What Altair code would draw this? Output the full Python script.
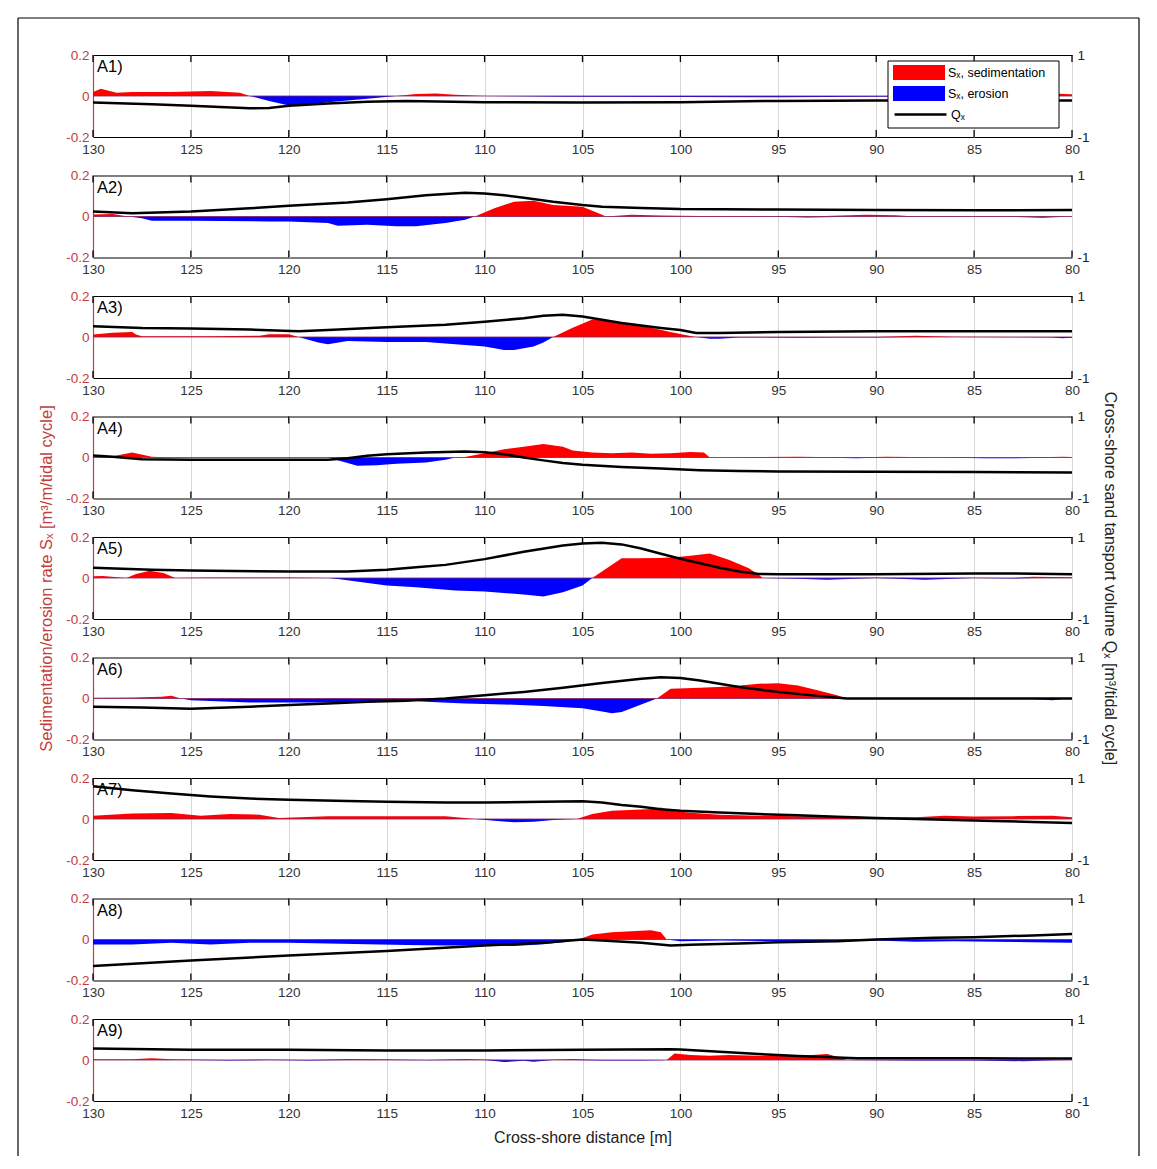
import altair as alt
import pandas as pd

FONT = "Liberation Sans"
TICKS = [130, 125, 120, 115, 110, 105, 100, 95, 90, 85, 80]
PANEL_LABELS = ["A1)", "A2)", "A3)", "A4)", "A5)", "A6)", "A7)", "A8)", "A9)"]
X_TITLE = "Cross-shore distance [m]"
L_TITLE = "Sedimentation/erosion rate S\u2093 [m\u00b3/m/tidal cycle]"
R_TITLE = "Cross-shore sand tansport volume Q\u2093 [m\u00b3/tidal cycle]"
LEG_SED = "S\u2093, sedimentation"
LEG_ERO = "S\u2093, erosion"
LEG_Q = "Q\u2093"

# ---- A1 ----
S1_X = [130, 129.6, 128.8, 128, 126, 124, 122.5, 122, 121, 120, 119.5, 118, 116, 114.5, 113.5, 112.5, 111.5, 110,
        106, 100, 95, 90, 85, 81.5, 80.8, 80.4, 80]
S1_V = [0.02, 0.035, 0.016, 0.02, 0.02, 0.024, 0.016, 0, -0.024, -0.046, -0.047, -0.03, -0.013, 0, 0.01, 0.012,
        0.006, 0, -0.004, -0.005, -0.006, -0.004, -0.003, 0, 0.012, 0.01, 0.008]
Q1_X = [130, 127, 125, 122, 121, 120, 118, 116, 114, 110, 105, 100, 95, 90, 85, 80]
Q1_V = [-0.16, -0.2, -0.24, -0.3, -0.29, -0.24, -0.18, -0.14, -0.12, -0.15, -0.16, -0.15, -0.12, -0.11, -0.11, -0.11]

# ---- A2 ----
S2_X = [130, 129, 128.2, 127.5, 127, 125, 121, 120, 118, 117.5, 116, 114.5, 113.5, 112, 111, 110.5, 109.5, 108.5,
        107.5, 106.5, 105, 104, 103.8, 102.5, 101, 99, 96, 93.5, 90.5, 89, 88, 84, 81.5, 80]
S2_V = [0.01, 0.012, 0, -0.008, -0.021, -0.021, -0.024, -0.024, -0.032, -0.045, -0.04, -0.048, -0.047, -0.032,
        -0.016, 0, 0.04, 0.072, 0.077, 0.056, 0.048, 0.008, 0, 0.008, 0.005, 0.002, 0.002, -0.005, 0.008, 0.006,
        -0.002, 0.003, -0.006, 0]
Q2_X = [130, 128, 125, 122, 120, 117, 115, 113, 111, 110, 109, 108, 106.5, 105, 104, 102, 100, 95, 90, 85, 80]
Q2_V = [0.12, 0.08, 0.12, 0.2, 0.26, 0.34, 0.42, 0.52, 0.58, 0.56, 0.52, 0.46, 0.36, 0.28, 0.24, 0.21, 0.18,
        0.17, 0.16, 0.15, 0.16]

# ---- A3 ----
S3_X = [130, 129, 128, 127.8, 127.5, 124, 121.5, 121, 120, 119.5, 118.5, 118, 117, 115, 113, 111.5, 110, 109,
        108.5, 107.5, 107, 106.5, 105.5, 104.5, 103.5, 102.5, 101.5, 100.5, 99.5, 99.2, 98.5, 98, 97, 94, 92, 90,
        88, 86, 81, 80.5, 80]
S3_V = [0.012, 0.021, 0.024, 0.012, 0.004, 0.004, 0.006, 0.013, 0.013, 0, -0.027, -0.035, -0.019, -0.024, -0.024,
        -0.035, -0.046, -0.064, -0.064, -0.046, -0.027, 0, 0.045, 0.085, 0.077, 0.064, 0.045, 0.024, 0.005, 0,
        -0.008, -0.008, -0.002, -0.004, -0.003, -0.002, 0.006, 0.001, -0.002, -0.006, -0.004]
Q3_X = [130, 127.5, 125, 122, 119.5, 118, 115, 112, 110, 108, 107, 106, 105, 104, 103, 102, 101, 100, 99.2, 98,
        95, 90, 85, 80]
Q3_V = [0.26, 0.22, 0.21, 0.18, 0.14, 0.17, 0.24, 0.3, 0.37, 0.46, 0.52, 0.54, 0.5, 0.42, 0.34, 0.28, 0.22, 0.17,
        0.1, 0.1, 0.12, 0.14, 0.14, 0.14]

# ---- A4 ----
S4_X = [130, 129, 128, 127, 126, 118, 117, 116.5, 115.5, 114.5, 113, 112, 111.5, 111, 110, 109, 108, 107, 106,
        105.5, 104.5, 103.5, 102.5, 101.5, 100.5, 99.5, 98.8, 98.5, 96, 94, 93, 91, 89.5, 87, 84.5, 82, 80.5, 80]
S4_V = [0.004, 0.006, 0.024, 0.004, 0, 0, -0.027, -0.04, -0.038, -0.03, -0.024, -0.011, 0, 0.003, 0.021, 0.04,
        0.053, 0.066, 0.053, 0.034, 0.024, 0.021, 0.024, 0.018, 0.021, 0.027, 0.025, 0, 0.002, 0.004, 0.003,
        -0.004, 0.004, 0.001, -0.004, -0.003, 0.004, 0.002]
Q4_X = [130, 129, 127.5, 125, 118, 117, 116, 115, 113, 111, 110, 109, 108, 107, 106, 105, 103, 101, 99, 97, 95,
        90, 85, 80]
Q4_V = [0.05, 0.02, -0.04, -0.056, -0.056, -0.016, 0.04, 0.08, 0.12, 0.144, 0.13, 0.08, 0.0, -0.07, -0.136,
        -0.176, -0.23, -0.27, -0.31, -0.33, -0.34, -0.345, -0.355, -0.365]

# ---- A5 ----
S5_X = [130, 129.5, 128.3, 127.8, 127.1, 126.4, 125.8, 124, 120, 118, 117.5, 115, 113.5, 111.5, 110, 108, 107,
        106, 105, 104.5, 103, 102.3, 101, 100, 99.5, 98.5, 97.5, 96.5, 96, 95.8, 94, 92.5, 90, 87.5, 85, 83, 82, 80]
S5_V = [0.008, 0.01, 0, 0.02, 0.035, 0.025, 0, 0.003, 0.002, 0, -0.005, -0.037, -0.045, -0.061, -0.066, -0.08,
        -0.09, -0.069, -0.037, 0, 0.096, 0.096, 0.098, 0.104, 0.108, 0.12, 0.088, 0.048, 0.016, 0, -0.004, -0.008,
        0.002, -0.008, 0.001, -0.003, 0.006, 0.004]
Q5_X = [130, 127, 125, 120, 117, 115, 113.5, 112, 110, 108, 106, 105, 104, 103, 102, 101, 100, 99, 98, 97, 96,
        95, 90, 85, 83, 80]
Q5_V = [0.25, 0.2, 0.18, 0.16, 0.16, 0.2, 0.26, 0.32, 0.46, 0.64, 0.79, 0.84, 0.86, 0.82, 0.72, 0.59, 0.47, 0.36,
        0.25, 0.16, 0.1, 0.09, 0.09, 0.11, 0.11, 0.09]

# ---- A6 ----
S6_X = [130, 128, 126.5, 126, 125.5, 125, 122, 120, 118, 116, 114, 113, 111, 109, 107, 105, 104, 103.5, 103, 102,
        101.2, 100.5, 99, 97.5, 96, 95, 94, 93, 92, 91.5, 88, 85, 82, 81, 80.5, 80]
S6_V = [0.004, 0.005, 0.008, 0.013, 0, -0.008, -0.019, -0.019, -0.019, -0.016, -0.008, -0.016, -0.024, -0.029,
        -0.037, -0.048, -0.064, -0.072, -0.066, -0.029, 0, 0.048, 0.053, 0.059, 0.072, 0.075, 0.064, 0.04, 0.016,
        0, 0.001, -0.001, -0.002, -0.008, -0.003, 0]
Q6_X = [130, 127.5, 125, 122, 120, 118, 116, 114, 112, 110, 108, 106, 104, 102, 101, 100, 99, 98, 97, 96, 95, 93,
        91.5, 85, 80]
Q6_V = [-0.2, -0.22, -0.25, -0.2, -0.16, -0.12, -0.08, -0.056, 0, 0.08, 0.16, 0.26, 0.38, 0.48, 0.52, 0.5, 0.44,
        0.36, 0.28, 0.22, 0.16, 0.064, 0, 0, 0]

# ---- A7 ----
S7_X = [130, 128, 126, 124.5, 123, 121.5, 120.5, 118, 115, 112, 111, 110.5, 109.5, 108.5, 107.5, 106.5, 105.3,
        104.5, 103.5, 102, 101.2, 101, 100.5, 99.5, 98, 96, 94, 92, 90, 88, 86.5, 85, 83, 81, 80]
S7_V = [0.016, 0.027, 0.029, 0.016, 0.024, 0.021, 0.005, 0.013, 0.014, 0.013, 0.005, 0, -0.008, -0.016, -0.013,
        -0.005, 0, 0.024, 0.04, 0.046, 0.05, 0.056, 0.04, 0.03, 0.021, 0.016, 0.013, 0.013, 0.008, 0.008, 0.016,
        0.012, 0.014, 0.016, 0.008]
Q7_X = [130, 128, 126, 124, 122, 120, 117, 115, 112, 110, 107, 105, 104, 103, 102, 101, 100, 98, 96, 94, 92, 90,
        88, 86, 84, 82, 80]
Q7_V = [0.8, 0.7, 0.62, 0.55, 0.5, 0.47, 0.44, 0.42, 0.4, 0.4, 0.42, 0.43, 0.4, 0.34, 0.3, 0.24, 0.2, 0.16, 0.12,
        0.09, 0.056, 0.024, 0, -0.024, -0.048, -0.072, -0.1]

# ---- A8 ----
S8_X = [130, 128, 126, 124, 122, 120, 118, 116, 114, 112, 110, 108.5, 107, 106, 105.2, 104.5, 103.5, 102.5, 101.5,
        101, 100.7, 100, 98, 95, 92, 90, 88, 86, 84, 82, 80]
S8_V = [-0.024, -0.024, -0.016, -0.024, -0.016, -0.016, -0.019, -0.023, -0.027, -0.029, -0.029, -0.032, -0.023,
        -0.013, 0, 0.024, 0.035, 0.04, 0.045, 0.035, 0, -0.008, -0.005, -0.008, -0.008, -0.005, -0.011, -0.008,
        -0.011, -0.013, -0.016]
Q8_X = [130, 125, 120, 115, 110, 107, 105, 104, 102, 100.5, 99.5, 97, 95, 92, 90, 87, 85, 82, 80]
Q8_V = [-0.645, -0.51, -0.39, -0.28, -0.145, -0.08, 0, -0.024, -0.08, -0.145, -0.13, -0.1, -0.065, -0.04, 0,
        0.04, 0.056, 0.1, 0.137]

# ---- A9 ----
S9_X = [130, 128, 127, 126, 125, 123, 121, 119, 117, 115, 113, 111, 110, 109, 108, 107.5, 106.5, 105.5, 104, 102,
        101, 100.7, 100.3, 99.5, 98.5, 97.5, 96, 94, 92.5, 92, 91.5, 88, 85, 82.5, 81, 80]
S9_V = [0.004, 0.004, 0.008, 0.004, 0.002, -0.002, 0.003, -0.002, 0.005, 0.004, -0.001, 0.005, 0.002, -0.01,
        -0.004, -0.008, 0.002, 0.005, -0.002, -0.002, -0.001, 0, 0.032, 0.024, 0.021, 0.024, 0.021, 0.019, 0.029,
        0.016, 0, -0.002, -0.002, -0.006, -0.001, 0]
Q9_X = [130, 125, 120, 115, 110, 105, 100.5, 100, 98, 96, 94, 92, 91, 90, 85, 80]
Q9_V = [0.28, 0.25, 0.25, 0.23, 0.23, 0.25, 0.26, 0.255, 0.2, 0.144, 0.096, 0.064, 0.045, 0.04, 0.04, 0.035]

S_X = [S1_X, S2_X, S3_X, S4_X, S5_X, S6_X, S7_X, S8_X, S9_X]
S_V = [S1_V, S2_V, S3_V, S4_V, S5_V, S6_V, S7_V, S8_V, S9_V]
Q_X = [Q1_X, Q2_X, Q3_X, Q4_X, Q5_X, Q6_X, Q7_X, Q8_X, Q9_X]
Q_V = [Q1_V, Q2_V, Q3_V, Q4_V, Q5_V, Q6_V, Q7_V, Q8_V, Q9_V]

RED = "#ff0000"
BLUE = "#0000ff"
LRED = "#c43c3c"
ZERO_COL = "#86285e"
TXT = "#333333"
W, H = 979, 82

MINUS_FIX = "replace(datum.label, '\u2212', '-')"

FILL_SCALE = alt.Scale(domain=[LEG_SED, LEG_ERO], range=[RED, BLUE])
STROKE_SCALE = alt.Scale(domain=[LEG_Q], range=["black"])
RECT_PATH = "M-1,-0.29H1V0.29H-1Z"
FILL_LEGEND = alt.Legend(orient="none", legendX=800, legendY=10, symbolType=RECT_PATH,
                         symbolSize=2704, symbolStrokeWidth=0, symbolOpacity=1, labelFont=FONT,
                         labelFontSize=12.5, labelColor="black", labelOffset=3, rowPadding=6, padding=0,
                         clipHeight=15)
STROKE_LEGEND = alt.Legend(orient="none", legendX=800, legendY=52, symbolType="stroke",
                           symbolSize=2704, symbolStrokeWidth=2.5, labelFont=FONT, labelFontSize=12.5,
                           labelColor="black", labelOffset=3, padding=0, clipHeight=15)


def panel(i):
    first = i == 0
    mid = i == 4
    last = i == 8
    sdf = pd.DataFrame({"x": S_X[i], "s": S_V[i]})
    qdf = pd.DataFrame({"x": Q_X[i], "q": Q_V[i]})
    one = pd.DataFrame({"t": [PANEL_LABELS[i]]})
    tdf = pd.DataFrame({"x": TICKS})
    xs = alt.Scale(domain=[80, 130], reverse=True, nice=False, zero=False)
    yl = alt.Scale(domain=[-0.2, 0.2], nice=False)
    yr = alt.Scale(domain=[-1, 1], nice=False)

    xaxis = alt.Axis(values=TICKS, grid=True, gridColor="#d6d6d6", gridWidth=1, ticks=False, domain=False,
                     labelPadding=5, labelFlush=False, labelOverlap=False, labelFont=FONT, labelFontSize=13.5,
                     labelColor=TXT, format="d",
                     title=X_TITLE if last else None, titleFont=FONT, titleFontSize=16,
                     titleFontWeight="normal", titleColor="#222222", titlePadding=10)
    ylaxis = alt.Axis(orient="left", values=[-0.2, 0, 0.2], ticks=False, grid=False, domainColor=LRED,
                      domainWidth=1.2, labelColor=LRED, labelFont=FONT, labelFontSize=13.5, labelPadding=4,
                      labelFlush=False, format=".1~f", labelExpr=MINUS_FIX,
                      title=L_TITLE if mid else None, titleColor=LRED, titleFont=FONT, titleFontSize=16.5,
                      titleFontWeight="normal", titlePadding=11)
    yraxis = alt.Axis(orient="right", values=[-1, 0, 1], ticks=False, grid=False, domain=False,
                      labelColor="#222222", labelFont=FONT, labelFontSize=13.5, labelPadding=5, labelFlush=False,
                      format="d", labelExpr=MINUS_FIX,
                      title=R_TITLE if mid else None, titleColor="#222222", titleFont=FONT, titleFontSize=16,
                      titleFontWeight="normal", titlePadding=12)

    def xenc():
        return alt.X("x:Q", scale=xs, axis=xaxis)

    enc_pos = dict(x=xenc(), y=alt.Y("pos:Q", scale=yl, axis=ylaxis), y2=alt.Y2Datum(0))
    enc_neg = dict(x=xenc(), y=alt.Y("neg:Q", scale=yl, axis=None), y2=alt.Y2Datum(0))
    enc_q = dict(x=xenc(), y=alt.Y("q:Q", scale=yr, axis=yraxis))
    if first:
        enc_pos["fill"] = alt.Fill("k:N", scale=FILL_SCALE, legend=FILL_LEGEND, title=None)
        enc_neg["fill"] = alt.Fill("k:N", scale=FILL_SCALE, legend=FILL_LEGEND, title=None)
        enc_q["stroke"] = alt.Stroke("k:N", scale=STROKE_SCALE, legend=STROKE_LEGEND, title=None)

    pos = alt.Chart(sdf).transform_calculate(pos="max(datum.s, 0)", k=f"'{LEG_SED}'").mark_area(
        color=RED, opacity=1, interpolate="linear").encode(**enc_pos)
    neg = alt.Chart(sdf).transform_calculate(neg="min(datum.s, 0)", k=f"'{LEG_ERO}'").mark_area(
        color=BLUE, opacity=1, interpolate="linear").encode(**enc_neg)
    zero = alt.Chart(one).mark_rule(color=ZERO_COL, strokeWidth=1.2, opacity=0.85).encode(
        y=alt.YDatum(0, scale=yl, axis=None))
    tick_top = alt.Chart(tdf).mark_rule(color="black", strokeWidth=1.3).encode(
        x=xenc(), y=alt.value(0), y2=alt.value(7))
    tick_bot = alt.Chart(tdf).mark_rule(color="black", strokeWidth=1.3).encode(
        x=xenc(), y=alt.value(H), y2=alt.value(H - 7))
    line = alt.Chart(qdf).transform_calculate(k=f"'{LEG_Q}'").mark_line(
        color="black", strokeWidth=2.5).encode(**enc_q)
    label = alt.Chart(one).mark_text(align="left", baseline="middle", font=FONT, fontSize=16.5,
                                     color="black").encode(x=alt.value(4), y=alt.value(12), text="t:N")
    layers = [pos, neg, zero, tick_top, tick_bot, line, label]
    if first:
        legend_box = alt.Chart(one).mark_rect(fill="white", stroke="black", strokeWidth=1).encode(
            x=alt.value(795), x2=alt.value(966), y=alt.value(6), y2=alt.value(73))
        frame_top = alt.Chart(one).mark_rule(color="black", strokeWidth=1.2).encode(
            x=alt.value(-75), x2=alt.value(1046), y=alt.value(-37))
        frame_left = alt.Chart(one).mark_rule(color="black", strokeWidth=1.2).encode(
            x=alt.value(-75), y=alt.value(-37), y2=alt.value(1101))
        frame_right = alt.Chart(one).mark_rule(color="black", strokeWidth=1.2).encode(
            x=alt.value(1046), y=alt.value(-37), y2=alt.value(1101))
        layers += [legend_box, frame_top, frame_left, frame_right]
    return alt.layer(*layers).resolve_scale(y="independent").properties(width=W, height=H)


chart = alt.vconcat(*[panel(i) for i in range(9)], spacing=38.5, bounds="flush").properties(
    padding={"left": 8, "top": 8, "right": 5, "bottom": 0}
).configure_view(stroke="black", strokeWidth=1)

chart.save("out.html", embed_options={"renderer": "svg", "actions": False})
